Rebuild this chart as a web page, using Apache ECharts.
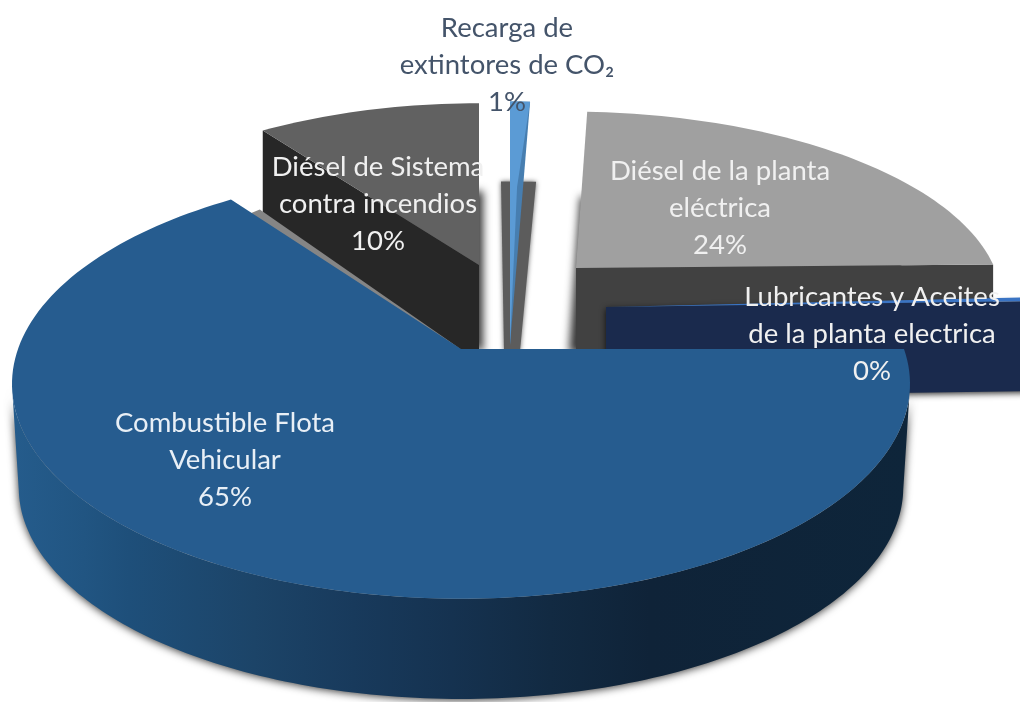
<!DOCTYPE html>
<html>
<head>
<meta charset="utf-8">
<style>html,body{margin:0;padding:0;background:#fff;overflow:hidden}#c{width:1020px;height:702px}</style>
<script src="https://cdn.jsdelivr.net/npm/echarts@6/dist/echarts.min.js"></script>
</head>
<body>
<div id="c"></div>
<script>
// ---- data ----
const categories = ['Combustible Flota\nVehicular','Diésel de Sistema\ncontra incendios','Recarga de\nextintores de CO₂','Diésel de la planta\neléctrica','Lubricantes y Aceites\nde la planta electrica'];
const values = [65, 10, 0.8, 23.9, 0.3];
const topColors = ['#265c8f','#616161','#5b9bd5','#a0a0a0','#3a74c4'];
const faceColors = ['#1b4a72','#272727','#477eb0','#414141','#1a2a4d'];
const labelColors = ['#e8eff6','#f0f0f0','#44546a','#f0f0f0','#f0f0f0'];

// ---- 3D pie projection ----
const START = 90, RX = 443, RY = 209, K = 0.163;
const layout = [
  {ax:461, ay:349, sx:1,     sy:1,     shx:0,    shy:0,      d:104, lx:225, ly:460},
  {ax:479, ay:265, sx:0.94,  sy:0.9,   shx:0,    shy:0,      d:88,  lx:378, ly:204},
  {ax:510, ay:345, sx:1.05,  sy:1.355, shx:0,    shy:0,      d:0,   lx:507, ly:65},
  {ax:576, ay:268, sx:0.945, sy:0.87,  shx:0.044,shy:0,      d:85,  lx:720, ly:208},
  {ax:606, ay:307, sx:1,     sy:1,     shx:0,    shy:-0.014, d:90,  lx:872, ly:334}
];
const total = values.reduce((a,b)=>a+b,0);
const angleBounds = [];
values.reduce((acc,v)=>{ const next = acc + v/total*360; angleBounds.push([acc,next]); return next; }, START);

function proj(deg, L, h, s){
  const a = deg*Math.PI/180, u = Math.sin(a), v = -Math.cos(a), w = 1-K*v;
  let x = RX*u/w*L.sx*(s||1), y = RY*v/w*L.sy*(s||1);
  x += L.shx*y; y += L.shy*x;
  return [L.ax+x, L.ay+y+(h||0)];
}
function arc(a0,a1,L,h,s){
  const n = Math.max(2,Math.ceil(Math.abs(a1-a0)/1.5)), pts=[];
  for(let i=0;i<=n;i++) pts.push(proj(a0+(a1-a0)*i/n,L,h,s));
  return pts;
}
const poly = (points,fill,z2,extra)=>({type:'polygon',shape:{points},style:Object.assign({fill},extra||{}),z2,silent:true});
const shadow = (ox,oy,blur)=>({shadowColor:'rgba(0,0,0,0.8)',shadowBlur:blur,shadowOffsetX:ox,shadowOffsetY:oy});

function renderSlice(params){
  const i = params.dataIndex, L = layout[i], [a0,a1] = angleBounds[i], out=[];
  const apex = [L.ax,L.ay];
  const top = [apex].concat(arc(a0,a1,L));
  if(i===0){
    // front wall: only the rim facing the viewer
    const vis=[]; for(let a=a0;a<=a1;a+=1){ if(-Math.cos(a*Math.PI/180)>=K-0.005) vis.push(a); }
    const upper = vis.map(a=>proj(a,L)), lower = vis.map(a=>proj(a,L,L.d,0.985));
    out.push(poly(upper.concat(lower.reverse()),{type:'linear',x:0,y:0,x2:1,y2:0,colorStops:[
      {offset:0,color:'#255c8c'},{offset:0.08,color:'#215582'},{offset:0.13,color:'#1e4f7a'},
      {offset:0.27,color:'#1c4468'},{offset:0.38,color:'#183a5c'},{offset:0.49,color:'#153250'},
      {offset:0.6,color:'#122a42'},{offset:0.71,color:'#0f2338'},{offset:1,color:'#0e253a'}]},50,shadow(0,1,9)));
    out.push(poly(top,topColors[i],52));
  } else if(i===1){
    const shifted = top.map(p=>[p[0],p[1]+L.d]);
    out.push(poly(shifted,'#3a3a3a',10,shadow(4,0,9)));
    const rim = proj(a0,L);
    out.push(poly([rim,apex,[apex[0],apex[1]+L.d],[apex[0]-17,apex[1]+L.d],[rim[0],rim[1]+L.d+10]],faceColors[i],11));
    out.push(poly(top,topColors[i],12));
    // sliver of grey cast along the cut edge of the large slice
    out.push(poly([[rim[0]-3,rim[1]+79],[apex[0]-17,apex[1]+85],[rim[0]-20,rim[1]+86]],'#858585',13));
  } else if(i===2){
    const rimS = proj(a0,L), rimE = proj(a1,L), drop = 80;
    out.push(poly([[rimS[0]-9,rimS[1]+drop],[rimE[0]+6,rimE[1]+drop],[apex[0]+10,apex[1]+6],[apex[0]-6,apex[1]+6]],'#5c5c5c',14,{shadowColor:'rgba(0,0,0,0.6)',shadowBlur:5}));
    out.push(poly(top,faceColors[i],15));
    const mid = [rimE[0]+(apex[0]-rimE[0])*0.35-6, rimE[1]+(apex[1]-rimE[1])*0.35];
    out.push(poly([apex,rimS,rimE,mid],topColors[i],16));
  } else if(i===3){
    const shifted = top.map(p=>[p[0],p[1]+L.d]);
    out.push(poly(shifted,'#3a3a3a',20,shadow(-7,0,8)));
    const rim = proj(a1,L);
    out.push(poly([apex,rim,[rim[0],rim[1]+L.d],[apex[0],apex[1]+L.d]],faceColors[i],21));
    out.push(poly(top,topColors[i],22));
  } else {
    const rim = proj(a1,L);
    out.push(poly([apex,rim,[rim[0],rim[1]+L.d],[apex[0],apex[1]+L.d]],faceColors[i],30,shadow(0,2,6)));
    out.push(poly(top,topColors[i],31));
  }
  const pct = Math.round(values[i]/total*100)+'%';
  out.push({type:'text',z2:100,silent:true,style:{
    x:L.lx,y:L.ly,text:categories[i]+'\n'+pct,
    fill:labelColors[i],font:'27.5px Lato, "Open Sans", sans-serif',align:'center',verticalAlign:'middle',lineHeight:37
  }});
  return {type:'group',children:out};
}

const chart = echarts.init(document.getElementById('c'),null,{renderer:'canvas',width:1020,height:702});
chart.setOption({
  animation:false,
  backgroundColor:'#ffffff',
  series:[{type:'custom',coordinateSystem:'none',silent:true,clip:false,
    data:values.map((v,i)=>({name:categories[i],value:[v,i]})),
    renderItem:renderSlice}]
});
</script>
</body>
</html>
